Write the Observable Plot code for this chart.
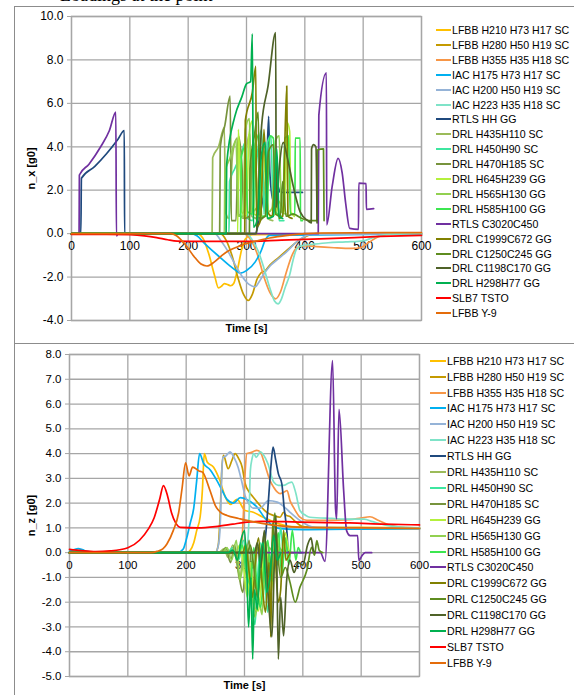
<!DOCTYPE html>
<html><head><meta charset="utf-8">
<script src="https://cdn.jsdelivr.net/npm/d3@7"></script>
<script src="https://cdn.jsdelivr.net/npm/@observablehq/plot@0.6"></script>
<style>
body{margin:0;background:#fff;width:574px;height:695px;overflow:hidden;position:relative;font-family:"Liberation Sans",Arial,sans-serif;}
#top,#bot{position:absolute;left:0;}
#top{top:0}
#bot{top:343px}
.bl{position:absolute;background:#8c8c8c}
.item{position:absolute;white-space:nowrap;font-size:10.6px;line-height:12px;color:#000;display:flex;align-items:center}
.sw{display:inline-block;height:2px;margin-right:1px}
.cut{position:absolute;left:60px;top:-15px;font-family:"Liberation Serif","Times New Roman",serif;font-size:18px;white-space:nowrap;color:#000}
</style></head><body>
<div class="cut">Loadings at the point</div>
<div id="top"></div>
<div id="bot"></div>
<script>
const names = ["LFBB H210 H73 H17 SC","LFBB H280 H50 H19 SC","LFBB H355 H35 H18 SC","IAC H175 H73 H17 SC","IAC H200 H50 H19 SC","IAC H223 H35 H18 SC","RTLS HH GG","DRL H435H110 SC","DRL H450H90 SC","DRL H470H185 SC","DRL H645H239 GG","DRL H565H130 GG","DRL H585H100 GG","RTLS C3020C450","DRL C1999C672 GG","DRL C1250C245 GG","DRL C1198C170 GG","DRL H298H77 GG","SLB7 TSTO","LFBB Y-9"];
const colors = ["#FFC000","#C49A00","#F79646","#00B0F0","#95B3D7","#7FE3C8","#1F497D","#9BBB59","#3EE6A0","#77933C","#B4F03C","#92D050","#3CE650","#7030A0","#808000","#5E8C1F","#4F6228","#00B050","#FF0000","#E46C0A"];
const xTicks = [0,100,200,300,400,500,600];
const yTicksNx = [-4,-2,0,2,4,6,8,10];
const yTicksNz = [-5,-4,-3,-2,-1,0,1,2,3,4,5,6,7,8];

// ---- n_x [g0] series (time s, value) ----
const nx_LFBB_H210 = [[0,0],[215,0],[225,-0.2],[235,-0.9],[245,-1.9],[252,-2.5],[258,-2.4],[262,-2.3],[268,-2.35],[273,-2.4],[278,-2.3],[285,-1.6],[292,-0.7],[298,-0.25],[310,-0.05],[600,0]];
const nx_LFBB_H280 = [[0,0],[255,0],[265,-0.3],[275,-1.0],[285,-2.0],[295,-2.8],[303,-3.08],[310,-2.8],[318,-2.1],[325,-1.8],[332,-1.7],[340,-1.45],[355,-1.1],[370,-0.75],[385,-0.4],[400,-0.15],[420,0],[600,0]];
const nx_LFBB_H355 = [[0,0],[295,0],[305,-0.2],[318,-0.9],[330,-2.0],[340,-2.7],[350,-3.0],[358,-2.7],[368,-1.8],[378,-1.0],[386,-0.65],[400,-0.55],[420,-0.6],[450,-0.65],[480,-0.68],[495,-0.65],[510,-0.4],[525,-0.15],[540,-0.03],[600,0]];
const nx_IAC_H175 = [[0,0],[205,0],[215,-0.1],[228,-0.45],[240,-0.75],[255,-1.1],[270,-1.45],[282,-1.7],[290,-1.82],[300,-1.7],[315,-1.3],[325,-0.8],[332,-0.3],[340,-0.08],[600,-0.02]];
const nx_IAC_H200 = [[0,0],[245,0],[258,-0.4],[270,-0.9],[280,-1.4],[292,-1.95],[305,-2.35],[315,-2.45],[322,-2.2],[330,-1.85],[340,-1.5],[355,-1.15],[370,-0.8],[383,-0.45],[395,-0.2],[410,-0.03],[600,0]];
const nx_IAC_H223 = [[0,0],[300,0],[310,-0.3],[320,-0.8],[330,-1.6],[340,-2.5],[348,-3.1],[354,-3.23],[360,-3.0],[366,-2.5],[374,-1.9],[380,-1.2],[386,-0.7],[395,-0.55],[411,-0.5],[440,-0.42],[470,-0.38],[500,-0.33],[515,-0.2],[530,-0.08],[545,-0.02],[600,0]];
const nx_RTLS_HH = [[0,0],[16,0],[17,2.55],[40,3.1],[60,3.68],[80,4.36],[90.5,4.75],[91,0],[315,0],[320,0.4],[328,1.6],[334,2.6],[338,5.4],[340,2.8],[346,1.5],[352,2.3],[358,1.9],[380,1.9],[396,1.9]];
const nx_DRL_H435 = [[0,0],[241,0],[242,3.5],[252,4.0],[262,4.9],[264,1.0],[270,0.7],[276,3.6],[284,4.4],[287,0.9],[296,0.7],[300,3.9],[306,4.6],[309,0.8],[318,0.7],[322,3.4],[330,2.4],[336,0.7],[345,0.6]];
const nx_DRL_H450 = [[0,0],[270,0],[271,2.4],[280,3.0],[290,3.6],[298,4.2],[302,0.7],[310,0.6],[318,3.5],[326,4.8],[330,0.9],[336,4.2],[342,4.5],[346,0.8],[352,2.2],[356,0.6],[364,0.6]];
const nx_DRL_H470 = [[0,0],[254,0],[255,4.0],[263,5.0],[272,6.33],[274,0.6],[282,0.6],[286,4.5],[292,3.2],[296,0.7],[305,0.8],[312,4.3],[318,2.0],[322,0.6],[330,0.8]];
const nx_DRL_H645 = [[0,0],[285,0],[286,4.8],[292,1.0],[300,0.8],[304,4.5],[310,5.2],[313,0.9],[324,0.8],[328,4.0],[334,1.8],[340,0.8],[350,0.9],[355,1.5],[365,1.0],[370,5.1],[374,4.7],[376,1.0],[382,0.8]];
const nx_DRL_H565 = [[0,0],[262,0],[263,2.8],[272,3.5],[282,4.3],[286,0.8],[294,0.8],[298,4.8],[305,5.3],[308,1.0],[318,1.2],[324,4.0],[332,3.6],[338,1.0],[344,1.2],[350,4.3],[356,4.5],[360,1.0],[368,0.9]];
const nx_DRL_H585 = [[0,0],[290,0],[291,3.5],[298,4.0],[302,1.0],[310,0.9],[316,4.6],[322,4.0],[326,0.8],[335,0.8],[340,4.5],[346,4.4],[350,1.0],[362,0.8],[366,4.4],[372,4.5],[375,0.9],[383,0.9],[383.5,4.4],[392,4.4],[392.5,0.6],[396,0.6]];
const nx_RTLS_C3020 = [[0,0],[13,0],[13.5,2.7],[30,3.2],[50,4.0],[65,4.75],[76,5.6],[77,-0.1],[80,0],[423,0],[424,5.45],[437,7.4],[437.5,0.4],[447,2.2],[457,3.47],[464,2.8],[470,1.4],[477,0.24],[492,0.2],[492.5,2.33],[505,2.3],[505.5,1.12],[518,1.15]];
const nx_DRL_C1999 = [[0,0],[297,0],[298,5.2],[310,6.5],[316,7.7],[317,0.3],[324,0.6],[330,4.8],[336,1.0],[344,0.8],[350,3.2],[356,0.7],[362,0.8],[369,6.8],[371,0.8],[378,0.7]];
const nx_DRL_C1250 = [[0,0],[305,0],[306,3.0],[314,4.6],[320,5.6],[323,0.7],[332,0.8],[338,3.8],[346,4.1],[350,0.9],[358,0.8],[362,2.4],[368,0.8],[380,0.9],[395,0.7],[410,0.6],[421,0.6],[421.5,3.85],[432,3.9],[433,0.6]];
const nx_DRL_C1198 = [[0,0],[317,0],[318,0.3],[326,5.0],[337,6.8],[350,9.26],[351,1.2],[356,3.0],[363,4.2],[370,3.5],[380,2.2],[392,1.0],[405,0.6],[411,0.5],[411.5,3.9],[415,4.1],[419,4.0],[421,0.5]];
const nx_DRL_H298 = [[0,0],[265,0],[266,3.2],[280,5.4],[292,6.3],[300,6.9],[307,7.0],[310,9.2],[312,0.3],[318,0.6],[326,3.7],[332,4.2],[336,0.7],[346,0.8],[352,3.9],[356,0.8],[362,0.7]];
const nx_SLB7 = [[0,-0.03],[60,-0.03],[100,-0.05],[125,-0.1],[146,-0.18],[165,-0.28],[181,-0.34],[220,-0.36],[300,-0.36],[360,-0.3],[450,-0.22],[530,-0.13],[600,-0.08]];
const nx_LFBB_Y9 = [[0,0],[170,0],[180,-0.1],[195,-0.5],[210,-1.05],[222,-1.4],[232,-1.49],[245,-1.3],[258,-1.0],[270,-0.78],[290,-0.55],[315,-0.35],[340,-0.2],[370,-0.08],[400,0],[430,0.03],[600,0.05]];

// ---- n_z [g0] series ----
const nz_LFBB_H210 = [[0,0],[200,0],[207,0.1],[213,0.4],[218,0.89],[224,1.45],[228,2.6],[231,4.0],[236,3.66],[247,3.45],[258,2.9],[267,2.25],[276,1.95],[287,2.15],[301,1.7],[315,1.63],[330,1.45],[345,1.3],[361,1.15],[380,1.05],[420,1.02],[500,1.02],[600,1.0]];
const nz_LFBB_H280 = [[0,0],[250,0],[255,0.3],[258,1.4],[261,3.3],[264,3.93],[272,3.39],[278,3.7],[284,4.0],[290,3.8],[296,3.45],[301,2.8],[308,2.45],[315,2.24],[325,1.95],[338,1.63],[350,1.5],[361,1.43],[367,1.63],[372,1.5],[378,1.46],[385,1.3],[400,1.05],[450,0.98],[600,0.97]];
const nz_LFBB_H355 = [[0,0],[290,0],[295,0.3],[298,1.5],[301,3.2],[304,4.0],[312,4.05],[321,4.13],[327,4.07],[333,3.7],[338,3.32],[344,2.9],[350,2.64],[356,2.45],[361,2.38],[368,2.45],[373,2.51],[378,2.1],[384,1.83],[395,1.43],[407,1.3],[440,1.3],[480,1.33],[500,1.4],[515,1.45],[530,1.3],[550,1.1],[570,1.02],[600,1.0]];
const nz_IAC_H175 = [[0,0.05],[8,0.12],[15,0.16],[22,0.12],[30,0.05],[50,0],[185,0],[195,0.15],[201,0.6],[207,1.2],[213,1.8],[218,2.9],[223,4.0],[230,3.6],[241,3.35],[253,2.9],[262,2.5],[270,2.15],[281,2.0],[293,2.22],[304,2.15],[321,1.85],[338,1.3],[361,0.97],[400,0.93],[500,0.95],[600,0.97]];
const nz_IAC_H200 = [[0,0],[250,0],[256,0.4],[259,1.5],[261,3.2],[263,3.85],[268,3.9],[275,4.07],[282,3.85],[289,3.45],[295,2.9],[301,2.3],[308,1.95],[315,1.8],[327,1.8],[341,2.1],[356,2.04],[368,1.85],[378,1.63],[395,1.3],[420,1.02],[600,0.98]];
const nz_IAC_H223 = [[0,0],[300,0],[305,0.3],[308,1.6],[310,3.3],[313,3.8],[316,4.0],[320,3.85],[327,4.07],[333,3.93],[340,3.6],[350,2.85],[358,2.72],[367,2.72],[375,2.8],[381,2.85],[388,2.4],[395,1.7],[405,1.5],[412,1.43],[450,1.38],[480,1.35],[505,1.35],[520,1.25],[540,1.12],[560,1.05],[600,1.0]];
const nz_RTLS_HH = [[0,0],[325,0],[333,0.1],[337,0.9],[341,2.1],[345,3.4],[349,4.26],[353,3.8],[358,3.19],[364,2.78],[368,1.8],[373,0.76],[375,0],[400,0]];
const nz_DRL_H435 = [[0,0],[255,0],[265,0.15],[272,-0.2],[280,0.3],[288,-0.6],[292,-1.13],[296,-0.3],[302,0.4],[308,-1.2],[314,-2.0],[318,-0.8],[324,0.3],[330,-0.6],[336,-1.5],[342,0.2],[348,0]];
const nz_DRL_H450 = [[0,0],[270,0],[280,0.2],[290,-0.3],[298,0.5],[305,-1.0],[312,-2.2],[318,-2.9],[322,-1.2],[328,0.4],[335,-1.2],[340,-2.4],[344,-1.0],[350,0.8],[356,-0.5],[362,1.0],[366,0.2],[372,0]];
const nz_DRL_H470 = [[0,0],[260,0],[268,0.2],[276,-0.4],[283,0.3],[290,-0.8],[297,-1.6],[302,-0.5],[308,0.5],[314,-1.5],[320,-2.4],[326,-1.0],[332,0.4],[338,-0.8],[342,0]];
const nz_DRL_H645 = [[0,0],[285,0],[292,0.3],[298,-0.5],[305,-1.8],[310,-0.4],[318,-2.3],[324,-2.35],[330,-0.8],[336,0.5],[344,-1.8],[350,-0.6],[356,0.7],[362,-0.4],[370,0.8],[376,0.1],[382,0]];
const nz_DRL_H565 = [[0,0],[262,0],[270,0.2],[278,-0.3],[286,0.5],[292,-1.1],[298,-0.4],[304,0.3],[312,-1.4],[318,-2.6],[324,-1.8],[330,-2.5],[334,-1.0],[340,0.4],[346,-0.9],[352,0.6],[360,0.2],[368,0]];
const nz_DRL_H585 = [[0,0],[290,0],[296,0.3],[302,-0.6],[310,-1.3],[316,0.2],[322,-1.6],[328,-2.2],[333,-0.6],[340,0.5],[346,-1.2],[352,-0.3],[358,0.8],[364,-0.9],[370,0.6],[376,-0.5],[382,0.9],[388,-0.3],[392,0.2],[396,0]];
const nz_RTLS_C3020 = [[0,0],[430,0],[438,-0.35],[451,7.75],[456,1.8],[458,1.36],[462,5.79],[470,2.5],[475,0.89],[481,0.69],[494,0.69],[496,-0.32],[502,-0.1],[507,0],[518,0]];
const nz_DRL_C1999 = [[0,0],[297,0],[302,0.3],[308,-0.8],[314,-1.8],[318,-0.5],[324,0.6],[330,-1.2],[336,-2.4],[342,-0.4],[345,-3.4],[348,1.2],[352,0.2],[358,-2.0],[362,-1.5],[367,0.9],[371,-0.3],[378,0]];
const nz_DRL_C1250 = [[0,0],[305,0],[310,0.3],[316,-0.6],[322,-1.8],[328,-0.5],[334,0.8],[340,-0.9],[346,-0.2],[352,1.6],[356,0.3],[362,-1.0],[370,-0.6],[378,-1.2],[387,-2.0],[395,-1.4],[407,-0.7],[415,0.21],[420,-0.1],[424,0.49],[428,0.1],[434,0]];
const nz_DRL_C1198 = [[0,0],[317,0],[322,0.4],[328,-0.6],[334,0.9],[340,-1.5],[347,-3.4],[351,-0.5],[354,1.5],[358,-4.3],[362,-1.8],[367,-3.36],[372,-1.2],[378,-0.3],[385,-0.8],[392,-0.4],[400,-0.5],[408,0.3],[414,0.6],[418,0.1],[421,0]];
const nz_DRL_H298 = [[0,0],[272,0],[280,0.1],[288,-0.3],[294,0.5],[300,0.89],[304,-0.8],[307,-3.0],[311,-1.0],[314,-4.3],[317,-1.5],[322,-2.3],[326,-0.5],[332,0.4],[338,-1.6],[344,-0.9],[350,0.7],[356,-0.3],[362,0]];
const nz_SLB7 = [[0,0.13],[20,0.08],[45,0.04],[70,0.07],[100,0.2],[120,0.5],[135,0.95],[145,1.4],[155,2.2],[161,2.71],[168,2.3],[175,1.6],[182,1.2],[190,1.02],[220,1.0],[250,1.05],[280,1.15],[300,1.22],[330,1.26],[370,1.25],[420,1.22],[480,1.2],[540,1.15],[600,1.12]];
const nz_LFBB_Y9 = [[0,0],[140,0],[150,0.05],[160,0.15],[167,0.35],[178,0.9],[187,1.6],[193,2.6],[199,3.63],[205,3.1],[211,3.45],[222,3.3],[228,3.25],[241,2.5],[250,1.9],[258,1.65],[270,1.5],[290,1.38],[304,1.3],[330,1.18],[361,1.08],[400,1.02],[500,1.0],[600,0.98]];

const nxSeries = [nx_LFBB_H210,nx_LFBB_H280,nx_LFBB_H355,nx_IAC_H175,nx_IAC_H200,nx_IAC_H223,nx_RTLS_HH,nx_DRL_H435,nx_DRL_H450,nx_DRL_H470,nx_DRL_H645,nx_DRL_H565,nx_DRL_H585,nx_RTLS_C3020,nx_DRL_C1999,nx_DRL_C1250,nx_DRL_C1198,nx_DRL_H298,nx_SLB7,nx_LFBB_Y9];
const nzSeries = [nz_LFBB_H210,nz_LFBB_H280,nz_LFBB_H355,nz_IAC_H175,nz_IAC_H200,nz_IAC_H223,nz_RTLS_HH,nz_DRL_H435,nz_DRL_H450,nz_DRL_H470,nz_DRL_H645,nz_DRL_H565,nz_DRL_H585,nz_RTLS_C3020,nz_DRL_C1999,nz_DRL_C1250,nz_DRL_C1198,nz_DRL_H298,nz_SLB7,nz_LFBB_Y9];

const FONT = '"Liberation Sans", Arial, sans-serif';
const GRID = "#a6a6a6";

function panel(series, o) {
  const rows = [];
  series.forEach((arr, i) => arr.forEach(([t, v]) => rows.push({s: names[i], t, v})));
  return Plot.plot({
    width: 574, height: o.height,
    marginLeft: o.x0, marginRight: 574 - o.x1, marginTop: o.mt, marginBottom: o.mb,
    style: {fontFamily: FONT, fontSize: o.fs + "px", color: "#000", background: "transparent", overflow: "visible"},
    x: {domain: [0, 600], axis: null},
    y: {domain: o.ydomain, axis: null},
    color: {domain: names, range: colors},
    marks: [
      Plot.gridX(xTicks, {stroke: GRID, strokeOpacity: 1, strokeWidth: 1.3}),
      Plot.gridY(o.yTicks, {stroke: GRID, strokeOpacity: 1, strokeWidth: 1.3}),
      Plot.frame({stroke: GRID, strokeWidth: 1.3}),
      Plot.axisY(o.yTicks, {tickFormat: d => d.toFixed(1), tickSize: 4, tickPadding: 4, label: null, stroke: GRID, fontSize: o.fs}),
      Plot.text(xTicks, {x: d => d, y: 0, text: d => String(d), dy: o.xdy, fontSize: o.fs}),
      Plot.line(rows, {x: "t", y: "v", z: "s", stroke: "s", strokeWidth: 1.7, curve: "monotone-x"}),
      Plot.text([o.ylabel], {frameAnchor: "left", dx: o.ldx, rotate: -90, textAnchor: "middle", fontWeight: "bold", fontSize: 11}),
      Plot.text(["Time [s]"], {frameAnchor: "bottom", dy: o.tdy, lineAnchor: "middle", fontWeight: "bold", fontSize: 11})
    ]
  });
}

document.getElementById("top").append(panel(nxSeries, {height: 343, x0: 71, x1: 421, mt: 16, mb: 23, ydomain: [-4, 10], yTicks: yTicksNx, fs: 12, ylabel: "n_x [g0]", ldx: -40, tdy: 8, xdy: 13}));
document.getElementById("bot").append(panel(nzSeries, {height: 352, x0: 69, x1: 419, mt: 11, mb: 19, ydomain: [-5, 8], yTicks: yTicksNz, fs: 11.5, ylabel: "n_z [g0]", ldx: -38, tdy: 9, xdy: 13}));

// legends
function legend(top0, step, lx, lw) {
  names.forEach((n, i) => {
    const d = document.createElement("div");
    d.className = "item";
    d.style.left = lx + "px";
    d.style.top = (top0 + i * step - 6) + "px";
    d.innerHTML = `<span class="sw" style="width:${lw}px;background:${colors[i]}"></span>${n}`;
    document.body.append(d);
  });
}
legend(30, 14.9, 436, 15);
legend(360.7, 15.9, 430, 16);

// chart-area borders
[[14, 6, 560, 1], [14, 343, 560, 1], [14, 6, 1, 689]].forEach(([l, t, w, h]) => {
  const b = document.createElement("div");
  b.className = "bl";
  Object.assign(b.style, {left: l + "px", top: t + "px", width: w + "px", height: h + "px"});
  document.body.append(b);
});
</script>
</body></html>
